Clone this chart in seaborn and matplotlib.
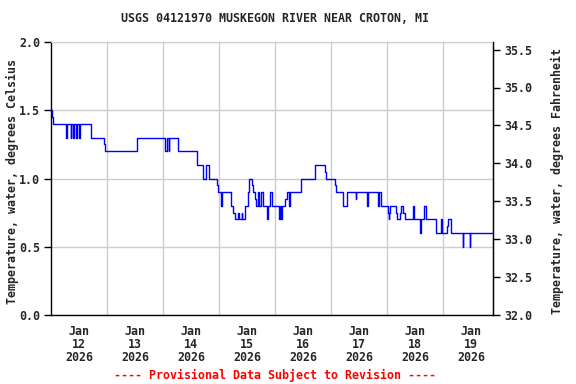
import matplotlib
matplotlib.use("Agg")
import matplotlib.pyplot as plt
import matplotlib.dates as mdates
import numpy as np
import pandas as pd
import seaborn as sns

# ---- data ----
title = "USGS 04121970 MUSKEGON RIVER NEAR CROTON, MI"
footer = "---- Provisional Data Subject to Revision ----"
start_time = "2026-01-12 00:00"
# hours after start at which the reading changes, and the new value (deg C)
change_hours = [
    0, 0.25, 0.75,
    6.5, 6.75, 8.5, 8.75, 9.5, 9.75, 10.75, 11.0, 12.0, 12.25,
    17.25, 22.75, 23.25,
    36.75,
    49.0, 49.5, 50.5, 50.75,
    54.5,
    62.75, 65.25, 66.5, 67.75,
    71.25, 71.75, 73.0, 73.25,
    77.0, 78.0, 79.0, 80.25, 80.5, 81.75, 82.0,
    83.0, 84.5, 85.0,
    86.25, 86.75, 87.25, 87.75,
    88.75, 89.0, 90.0, 90.75,
    92.5, 92.75, 93.0,
    94.0, 94.5,
    97.75, 98.25, 98.5, 99.0,
    100.25, 101.0, 102.0, 102.5,
    107.0, 113.0, 117.5, 118.0,
    121.75, 122.25, 125.0, 126.75,
    130.5, 130.75, 135.5, 135.75, 140.25, 140.75, 141.25,
    144.5, 144.75, 145.0, 145.25,
    147.75, 148.25, 149.5, 150.0, 151.0, 151.5,
    155.25, 155.5, 158.25, 158.75, 160.0, 160.5,
    165.0, 167.25, 167.5, 169.5, 170.25, 171.5,
    176.5, 176.75, 179.5, 179.75, 189.25,
]
temp_c = [
    1.5, 1.45, 1.4,
    1.3, 1.4, 1.3, 1.4, 1.3, 1.4, 1.3, 1.4, 1.3, 1.4,
    1.3, 1.25, 1.2,
    1.3,
    1.2, 1.3, 1.2, 1.3,
    1.2,
    1.1, 1.0, 1.1, 1.0,
    0.95, 0.9, 0.8, 0.9,
    0.8, 0.75, 0.7, 0.75, 0.7, 0.75, 0.7,
    0.8, 0.9, 1.0,
    0.95, 0.9, 0.85, 0.8,
    0.9, 0.8, 0.9, 0.8,
    0.75, 0.7, 0.8,
    0.9, 0.8,
    0.7, 0.8, 0.7, 0.8,
    0.85, 0.9, 0.8, 0.9,
    1.0, 1.1, 1.05, 1.0,
    0.95, 0.9, 0.8, 0.9,
    0.85, 0.9, 0.8, 0.9, 0.8, 0.9, 0.8,
    0.75, 0.7, 0.75, 0.8,
    0.75, 0.7, 0.75, 0.8, 0.75, 0.7,
    0.8, 0.7, 0.6, 0.7, 0.8, 0.7,
    0.6, 0.7, 0.6, 0.65, 0.7, 0.6,
    0.5, 0.6, 0.5, 0.6, 0.6,
]
day_labels = ["Jan\n12\n2026", "Jan\n13\n2026", "Jan\n14\n2026", "Jan\n15\n2026",
              "Jan\n16\n2026", "Jan\n17\n2026", "Jan\n18\n2026", "Jan\n19\n2026"]
left_ticks = [0.0, 0.5, 1.0, 1.5, 2.0]
right_ticks = [32.0, 32.5, 33.0, 33.5, 34.0, 34.5, 35.0, 35.5]

# ---- style ----
sns.set_style("white")
plt.rcParams["font.family"] = ["DejaVu Sans Mono"]
plt.rcParams["font.weight"] = "bold"
FS = 8.4

t0 = pd.Timestamp(start_time)
df = pd.DataFrame({
    "time": t0 + pd.to_timedelta(change_hours, unit="h"),
    "temp": temp_c,
})

fig = plt.figure(figsize=(5.76, 3.84), dpi=100)
ax = fig.add_axes([51 / 576, 1 - 315 / 384, (493 - 51) / 576, (315 - 42) / 384])

sns.lineplot(data=df, x="time", y="temp", ax=ax, color="#0000FF", lw=1.0,
             drawstyle="steps-post", estimator=None, sort=False)

xmin = t0
xmax = t0 + pd.Timedelta(hours=189.4)
ax.set_xlim(xmin, xmax)
ax.set_ylim(0, 2.0)

# x ticks: labels at noon, gridlines at midnight
noon = [t0 + pd.Timedelta(hours=12 + 24 * i) for i in range(len(day_labels))]
midn = [t0 + pd.Timedelta(hours=24 * i) for i in range(1, len(day_labels))]
ax.set_xticks(noon)
ax.set_xticklabels(day_labels, fontsize=FS, fontweight="bold", linespacing=1.0)
ax.set_xticks(midn, minor=True)
ax.tick_params(axis="x", which="both", length=0, pad=7)
ax.grid(False)
ax.grid(True, axis="x", which="minor", color="#CCCCCC", lw=1.0)
ax.set_yticks(left_ticks)
ax.set_yticklabels([f"{v:.1f}" for v in left_ticks], fontsize=FS, fontweight="bold")
ax.grid(True, axis="y", which="major", color="#CCCCCC", lw=1.0)
ax.tick_params(axis="y", which="major", length=5, width=1, direction="out",
               color="black", pad=3, left=True)
ax.set_xlabel("")
ax.set_ylabel("")
for s in ["left", "right", "bottom"]:
    ax.spines[s].set_color("black")
    ax.spines[s].set_linewidth(1.0)
ax.spines["top"].set_color("#CCCCCC")
ax.set_axisbelow(True)

# right axis in Fahrenheit
ax2 = ax.twinx()
ax2.set_ylim(32 + 1.8 * 0.0, 32 + 1.8 * 2.0)
ax2.set_yticks(right_ticks)
ax2.set_yticklabels([f"{v:.1f}" for v in right_ticks], fontsize=FS, fontweight="bold")
ax2.tick_params(axis="y", length=5, width=1, direction="out", color="black", pad=3)
for s in ["left", "top", "bottom"]:
    ax2.spines[s].set_visible(False)
ax2.spines["right"].set_color("black")
ax2.grid(False)

fig.text(275 / 576, 1 - 19 / 384, title, ha="center", va="center",
         fontsize=FS, fontweight="bold")
fig.text(12 / 576, 1 - 182 / 384, "Temperature, water, degrees Celsius",
         rotation=90, ha="center", va="center", fontsize=FS, fontweight="bold")
fig.text(557 / 576, 1 - 181 / 384, "Temperature, water, degrees Fahrenheit",
         rotation=90, ha="center", va="center", fontsize=FS, fontweight="bold")
fig.text(275 / 576, 1 - 375 / 384, footer, ha="center", va="center",
         fontsize=FS, fontweight="bold", color="#FF0000")

fig.savefig("out.png", dpi=100)
